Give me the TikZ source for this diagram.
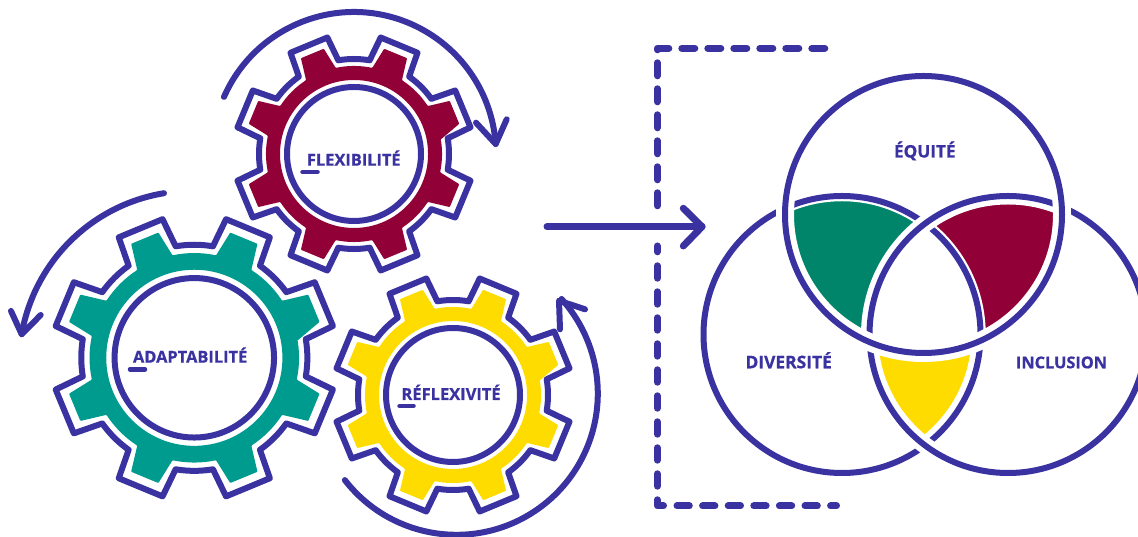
\documentclass[tikz,border=0pt]{standalone}
\usepackage{fontspec}
\setmainfont[BoldFeatures={FakeBold=0.6}]{Open Sans}
\definecolor{ink}{HTML}{3A32A0}
\definecolor{teal}{HTML}{009B8F}
\definecolor{crimson}{HTML}{910036}
\definecolor{sun}{HTML}{FFDC00}
\definecolor{vgreen}{HTML}{00856A}
\tikzset{
  x=1pt,y=1pt,
  outline/.style={draw=ink,line width=6pt,line join=round,line cap=round},
  heavy/.style={draw=ink,line width=7pt,line join=round,line cap=round},
  dashline/.style={draw=ink,line width=7pt,line cap=round,line join=round},
  lab/.style={anchor=base west,inner sep=0pt,outer sep=0pt,text=ink,font=\bfseries\fontsize{#1}{#1}\selectfont},
  lab/.default=16.4,
  bar/.style={draw=ink,line width=4.5pt,line cap=round},
}
% \gearshape{cx}{cy}{scale}{fill colour}
\newcommand{\gearshape}[4]{%
  \begin{scope}[shift={(#1,#2)},scale=#3]
    \fill[#4,even odd rule,rounded corners=0.8pt]
      (9.5:88)
      \foreach \a [evaluate=\a as \s using \a+10.5,evaluate=\a as \e using \a+34.5] in {22.5,67.5,...,337.5}{
        -- (\a-6.5:109.5) -- (\a+6.5:109.5) -- (\a+10.5:88)
        arc[start angle=\s,end angle=\e,radius=88]
      } -- cycle
      (74,0) arc[start angle=0,end angle=360,radius=74] -- cycle;
    \draw[outline]
      (9.5:95)
      \foreach \a [evaluate=\a as \s using \a+13,evaluate=\a as \e using \a+32] in {22.5,67.5,...,337.5}{
        -- (\a-9.6:119.5) -- (\a+9.6:119.5) -- (\a+13:95)
        arc[start angle=\s,end angle=\e,radius=95]
      } -- cycle;
    \draw[outline] (0,0) circle[radius=67];
  \end{scope}}
\begin{document}
\begin{tikzpicture}
\clip (0,0) rectangle (1138,537);
\fill[white] (0,0) rectangle (1138,537);

% gears
\gearshape{354}{383}{1}{crimson}
\gearshape{194.3}{179.2}{1.19}{teal}
\gearshape{453}{142}{1}{sun}

% rotation arrows
\draw[outline] (354,383) ++(156.3:142) arc[start angle=156.3,end angle=4,radius=142];
\draw[outline] (476,414.3) -- (495.7,393) -- (506.7,417.7);
\draw[outline] (192.1,173.1) ++(99.35:173) arc[start angle=99.35,end angle=170.1,radius=173];
\draw[outline] (11,226) -- (21.7,202.7) -- (40.7,222);
\draw[outline] (456.5,143.5) ++(217.8:141.3) arc[start angle=217.8,end angle=402,radius=141.3];
\draw[outline] (560,207.7) -- (559,236.3) -- (585,227.7);

% main arrow
\coordinate (arrowstart) at (547,310.3);
\coordinate (arrowtip) at (702,310.3);
\draw[heavy] (arrowstart) -- (arrowtip);
\draw[heavy] (683.3,328.7) -- (arrowtip) -- (683.3,291);

% dashed bracket
\draw[dashline,dash pattern=on 13pt off 13pt]
  (824.8,488.7) -- (657.3,488.7) -- (657.3,327.5);
\draw[dashline] (657.3,285.2) -- (657.3,291);
\draw[dashline,dash pattern=on 12.4pt off 13.6pt]
  (657.3,271.2) -- (657.3,31) -- (663.7,31);
\draw[dashline,dash pattern=on 12.3pt off 13.3pt]
  (677,31) -- (836.5,31);

% Venn regions
\begin{scope}
  \clip (923.5,322.5) circle[radius=138.5];
  \begin{scope}
    \clip (842,202.5) circle[radius=138.5];
    \fill[vgreen] (700,100) rectangle (1138,537);
  \end{scope}
  \begin{scope}
    \clip (1008,202.5) circle[radius=138.5];
    \fill[crimson] (700,0) rectangle (1138,537);
  \end{scope}
\end{scope}
\begin{scope}
  \clip (842,202.5) circle[radius=129.5];
  \clip (1008,202.5) circle[radius=138.5];
  \fill[sun] (700,0) rectangle (1138,537);
\end{scope}
\begin{scope}
  \clip (842,202.5) circle[radius=138.5];
  \clip (1008,202.5) circle[radius=138.5];
  \clip (923.5,322.5) circle[radius=138.5];
  \fill[white] (700,0) rectangle (1138,537);
\end{scope}

% Venn circles, interlaced by white halos
\draw[white,line width=10.5pt] (842,202.5) circle[radius=138.5];
\draw[outline] (842,202.5) circle[radius=138.5];
\draw[white,line width=17pt] (1008,202.5) circle[radius=138.5];
\draw[outline] (1008,202.5) circle[radius=138.5];
\draw[white,line width=18pt] (923.5,322.5) circle[radius=138.5];
\draw[outline] (923.5,322.5) circle[radius=138.5];

% labels
\node[lab] (flex) at (307,371.3) {FLEXIBILITÉ};
\draw[bar] (302.5,365) -- (317.5,365);
\node[lab] (adapt) at (133,174.3) {ADAPTABILITÉ};
\draw[bar] (130,167.7) -- (145,167.7);
\node[lab=16.5] (refl) at (401.5,137) {RÉFLEXIVITÉ};
\draw[bar] (399.5,131) -- (413.5,131);
\node[lab=17.2] (equi) at (894,379.5) {ÉQUITÉ};
\node[lab=17.4] (dive) at (745.5,168.7) {DIVERSITÉ};
\node[lab=16.3] (incl) at (1016,168.7) {INCLUSION};
\end{tikzpicture}
\end{document}
